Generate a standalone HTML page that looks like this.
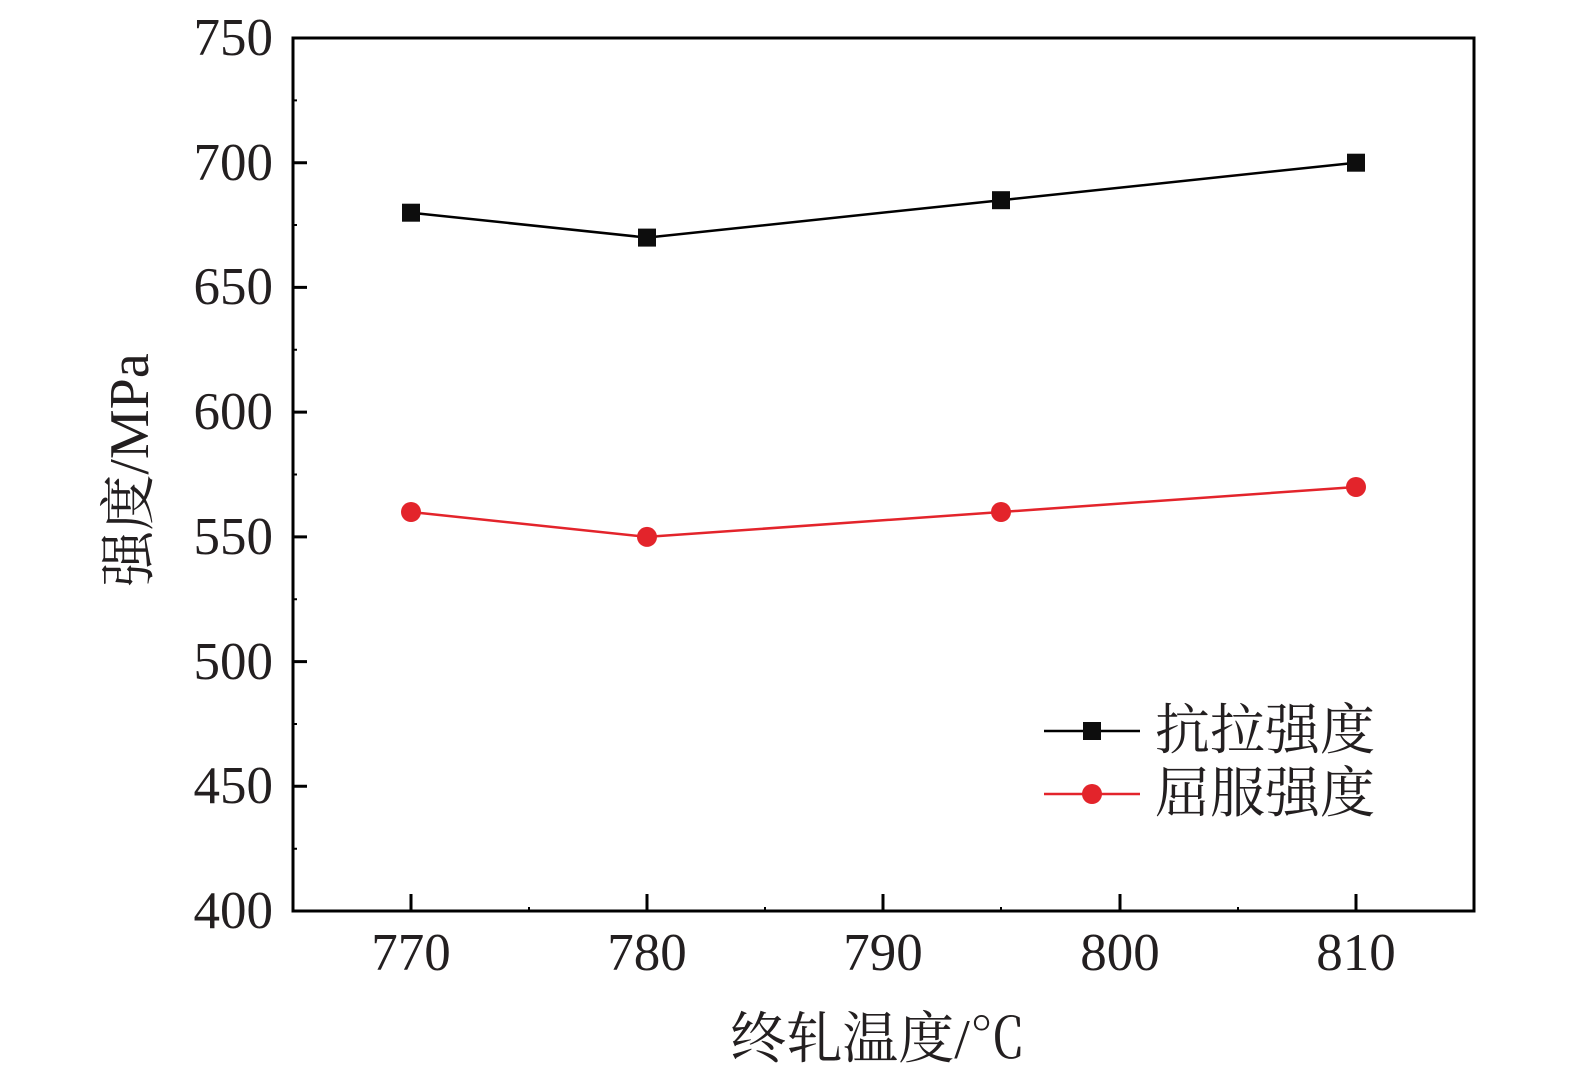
<!DOCTYPE html><html><head><meta charset="utf-8"><style>html,body{margin:0;padding:0;background:#fff;overflow:hidden;width:1575px;height:1082px}svg{display:block}text{font-family:"Liberation Serif","Times New Roman",Times,"Noto Serif CJK SC",serif}</style></head><body>
<svg width="1575" height="1082" xmlns="http://www.w3.org/2000/svg" fill="#231f20">
<rect x="293" y="38" width="1181" height="873" fill="none" stroke="#000" stroke-width="3"/>
<g stroke="#000" stroke-width="3">
<path d="M293 38h14M293 162.7h14M293 287.4h14M293 412.1h14M293 536.9h14M293 661.6h14M293 786.3h14"/>
<path d="M411 911v-17M647 911v-17M883 911v-17M1120 911v-17M1356 911v-17"/>
<path stroke-width="2" d="M293 100.4h4M293 225h4M293 349.8h4M293 474.5h4M293 599.2h4M293 724h4M293 848.7h4M529 911v-4M765 911v-4M1001 911v-4M1238 911v-4"/>
</g>
<g font-size="53" text-anchor="end">
<text x="273" y="55">750</text><text x="273" y="180">700</text><text x="273" y="304">650</text><text x="273" y="429">600</text><text x="273" y="554">550</text><text x="273" y="679">500</text><text x="273" y="803">450</text><text x="273" y="928">400</text>
</g>
<g font-size="53" text-anchor="middle">
<text x="411" y="970">770</text><text x="647" y="970">780</text><text x="883" y="970">790</text><text x="1120" y="970">800</text><text x="1356" y="970">810</text>
</g>
<g font-size="56" text-anchor="middle">
<text x="878" y="1058">终轧温度/℃</text>
<text transform="translate(148 470) rotate(-90)">强度/MPa</text>
</g>
<polyline points="411,212.7 647,237.6 1001,200.2 1356,162.7" fill="none" stroke="#000" stroke-width="2.5"/>
<g fill="#0d0d0d"><rect x="402" y="203.7" width="18" height="18"/><rect x="638" y="228.6" width="18" height="18"/><rect x="992" y="191.2" width="18" height="18"/><rect x="1347" y="153.7" width="18" height="18"/></g>
<polyline points="411,512 647,536.9 1001,512 1356,487" fill="none" stroke="#e3242b" stroke-width="2.5"/>
<g fill="#e3242b"><circle cx="411" cy="512" r="10"/><circle cx="647" cy="536.9" r="10"/><circle cx="1001" cy="512" r="10"/><circle cx="1356" cy="487" r="10"/></g>
<line x1="1044" y1="731" x2="1140" y2="731" stroke="#000" stroke-width="2.5"/><rect x="1083" y="722" width="18" height="18" fill="#0d0d0d"/>
<line x1="1044" y1="794" x2="1140" y2="794" stroke="#e3242b" stroke-width="2.5"/><circle cx="1092" cy="794" r="10" fill="#e3242b"/>
<g font-size="55"><text x="1155" y="749">抗拉强度</text><text x="1155" y="812">屈服强度</text></g>
</svg></body></html>
